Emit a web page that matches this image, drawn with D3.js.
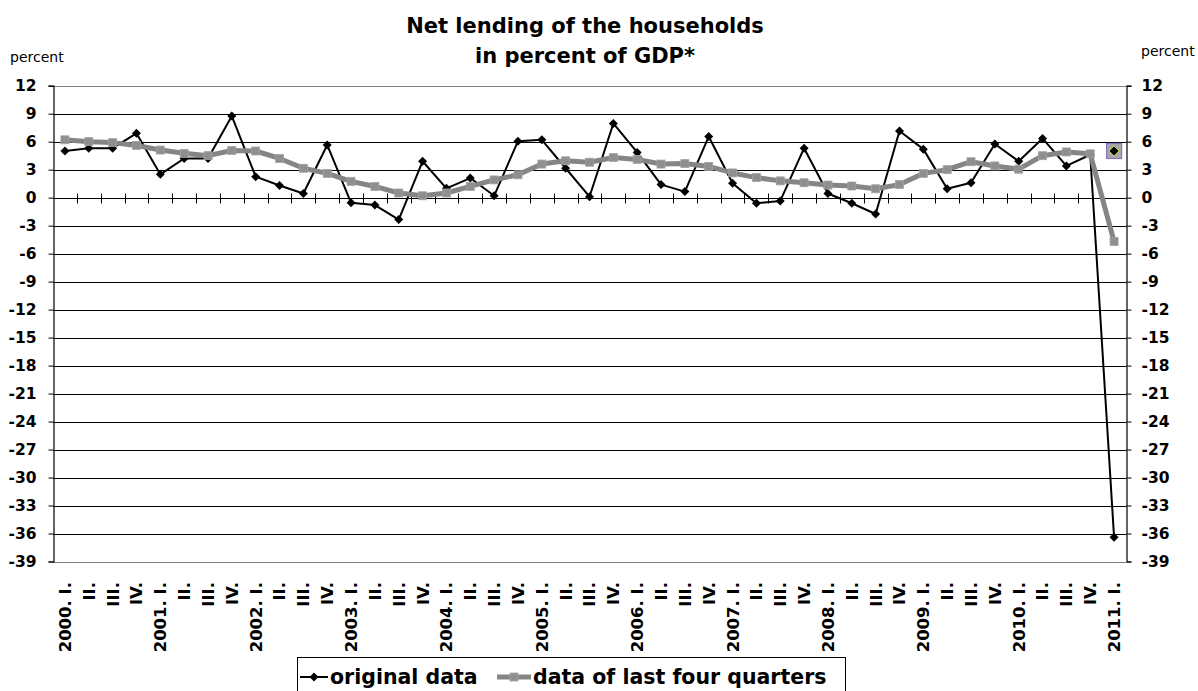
<!DOCTYPE html>
<html>
<head>
<meta charset="utf-8">
<script src="https://cdn.jsdelivr.net/npm/d3@7"></script>
<style>
  html, body { margin: 0; padding: 0; background: #fff; }
  svg { display: block; font-family: "DejaVu Sans", Verdana, sans-serif; }
</style>
</head>
<body>
<svg id="chart" width="1198" height="691"></svg>
<script>
// Quarter labels, 2000 Q1 .. 2011 Q1
const quarters = [
  "2000. I.", "II.", "III.", "IV.",
  "2001. I.", "II.", "III.", "IV.",
  "2002. I.", "II.", "III.", "IV.",
  "2003. I.", "II.", "III.", "IV.",
  "2004. I.", "II.", "III.", "IV.",
  "2005. I.", "II.", "III.", "IV.",
  "2006. I.", "II.", "III.", "IV.",
  "2007. I.", "II.", "III.", "IV.",
  "2008. I.", "II.", "III.", "IV.",
  "2009. I.", "II.", "III.", "IV.",
  "2010. I.", "II.", "III.", "IV.",
  "2011. I."
];

// Quarterly net lending, % of GDP
const originalData = [
  5.0, 5.3, 5.3, 6.9,
  2.5, 4.2, 4.2, 8.75,
  2.25, 1.3, 0.45, 5.65,
  -0.55, -0.8, -2.35, 3.9,
  1.0, 2.1, 0.2, 6.05,
  6.2, 3.15, 0.1, 7.95,
  4.85, 1.4, 0.65, 6.55,
  1.55, -0.6, -0.35, 5.3,
  0.45, -0.6, -1.75, 7.15,
  5.2, 0.95, 1.6, 5.75,
  3.9, 6.35, 3.4, 4.6,
  -36.4
];

// Rolling four-quarter figures, % of GDP
const lastFourQuarters = [
  6.2, 6.0, 5.9, 5.6,
  5.1, 4.75, 4.5, 5.05,
  5.0, 4.2, 3.15, 2.6,
  1.75, 1.2, 0.5, 0.2,
  0.5, 1.2, 1.9, 2.45,
  3.6, 3.95, 3.8, 4.3,
  4.1, 3.6, 3.65, 3.35,
  2.65, 2.15, 1.8, 1.6,
  1.35, 1.25, 0.95, 1.4,
  2.6, 3.0, 3.85, 3.4,
  3.05, 4.5, 4.9, 4.7,
  -4.7
];

// Single boxed marker shown beside the last quarter
const boxedPoint = [{ quarter: "2011. I.", value: 5.0 }];

const yTicks = [12, 9, 6, 3, 0, -3, -6, -9, -12, -15, -18, -21, -24, -27, -30, -33, -36, -39];

const titleLines = ["Net lending of the households", "in percent of GDP*"];
const unitLabel = "percent";
const seriesNames = ["original data", "data of last four quarters"];

const svg = d3.select("#chart");
const plotLeft = 53, plotRight = 1126, plotTop = 85.7, plotBottom = 561.5;

const x = d3.scaleBand().domain(quarters.map((q, i) => i)).range([plotLeft, plotRight]).padding(0);
const y = d3.scaleLinear().domain([-39, 12]).range([plotBottom, plotTop]);
const cx = i => x(i) + x.bandwidth() / 2;

// Horizontal gridlines
svg.append("g").selectAll("line")
  .data(yTicks)
  .join("line")
  .attr("x1", plotLeft).attr("x2", plotRight)
  .attr("y1", d => Math.round(y(d)) + 0.5).attr("y2", d => Math.round(y(d)) + 0.5)
  .attr("stroke", d => (d === 12 || d === -39) ? "#808080" : "#000")
  .attr("stroke-width", 1);

// Left and right value axes
const fmt = d => String(d);
const axL = d3.axisLeft(y).tickValues(yTicks).tickSize(5).tickFormat(fmt);
const axR = d3.axisRight(y).tickValues(yTicks).tickSize(5).tickFormat(fmt);
const gL = svg.append("g").attr("transform", `translate(${plotLeft + 0.5},0)`).call(axL);
const gR = svg.append("g").attr("transform", `translate(${plotRight + 0.5},0)`).call(axR);
[gL, gR].forEach(g => {
  g.select(".domain").attr("stroke", "#000").attr("stroke-width", 1.2);
  g.selectAll(".tick line").attr("stroke", "#000");
  g.selectAll(".tick text")
    .attr("font-family", "DejaVu Sans, Verdana, sans-serif")
    .attr("font-size", 15.5).attr("font-weight", "bold").attr("fill", "#000");
});
gL.selectAll(".tick text").attr("x", -17);
gR.selectAll(".tick text").attr("x", 15);

// Category axis along the zero line, ticks crossing it
const zeroY = Math.round(y(0)) + 0.5;
svg.append("line").attr("x1", plotLeft).attr("x2", plotRight).attr("y1", zeroY).attr("y2", zeroY)
  .attr("stroke", "#000").attr("stroke-width", 1.2);
svg.append("g").selectAll("line")
  .data(d3.range(1, quarters.length))
  .join("line")
  .attr("x1", i => Math.round(x(i)) + 0.5).attr("x2", i => Math.round(x(i)) + 0.5)
  .attr("y1", zeroY - 5).attr("y2", zeroY + 5)
  .attr("stroke", "#000").attr("stroke-width", 1);

// Quarter labels below the plot, rotated
svg.append("g").selectAll("text")
  .data(quarters)
  .join("text")
  .attr("transform", (d, i) => `translate(${cx(i)},582) rotate(-90)`)
  .attr("text-anchor", "end")
  .attr("dy", "0.36em")
  .attr("font-size", 16.5).attr("font-weight", "bold")
  .text(d => d);

// Diamond marker: a square turned by 45 degrees
const diamondPath = s => `M0,${-s}L${s},0L0,${s}L${-s},0Z`;

// Original data line
const lineGen = d3.line().x((d, i) => cx(i)).y(d => y(d));
svg.append("path").datum(originalData)
  .attr("d", lineGen).attr("fill", "none")
  .attr("stroke", "#000").attr("stroke-width", 2).attr("stroke-linejoin", "round");
svg.append("g").selectAll("path")
  .data(originalData)
  .join("path")
  .attr("transform", (d, i) => `translate(${cx(i)},${y(d)})`)
  .attr("d", diamondPath(4.5)).attr("fill", "#000");

// Four-quarter line
svg.append("path").datum(lastFourQuarters)
  .attr("d", lineGen).attr("fill", "none")
  .attr("stroke", "#858585").attr("stroke-width", 5).attr("stroke-linejoin", "round");
svg.append("g").selectAll("rect")
  .data(lastFourQuarters)
  .join("rect")
  .attr("x", (d, i) => cx(i) - 4).attr("y", d => y(d) - 4)
  .attr("width", 8).attr("height", 8)
  .attr("fill", "#8f8f8f").attr("stroke", "#a3a3a3").attr("stroke-width", 0.8);

// Boxed marker
const bp = svg.append("g").selectAll("g")
  .data(boxedPoint)
  .join("g")
  .attr("transform", d => `translate(${cx(quarters.indexOf(d.quarter))},${y(d.value)})`);
bp.append("rect").attr("x", -7.5).attr("y", -7.5).attr("width", 15).attr("height", 15)
  .attr("fill", "#a8a8a8").attr("stroke", "#8a70c0").attr("stroke-width", 1.2);
bp.append("path").attr("d", diamondPath(5))
  .attr("fill", "#000").attr("stroke", "#b8d040").attr("stroke-width", 1);

// Title
svg.append("g").selectAll("text")
  .data(titleLines)
  .join("text")
  .attr("x", 585).attr("y", (d, i) => 33 + i * 30)
  .attr("text-anchor", "middle")
  .attr("font-size", 21).attr("font-weight", "bold")
  .text(d => d);

// Unit labels
svg.append("text").attr("x", 10).attr("y", 62).attr("font-size", 14).text(unitLabel);
svg.append("text").attr("x", 1141).attr("y", 56).attr("font-size", 14).text(unitLabel);

// Legend
const lg = svg.append("g");
lg.append("rect").attr("x", 297.5).attr("y", 657.5).attr("width", 548).attr("height", 50)
  .attr("fill", "#fff").attr("stroke", "#000").attr("stroke-width", 1);
lg.append("line").attr("x1", 300).attr("x2", 328).attr("y1", 677).attr("y2", 677)
  .attr("stroke", "#000").attr("stroke-width", 2);
lg.append("path").attr("transform", "translate(314,677)").attr("d", diamondPath(4.5)).attr("fill", "#000");
lg.append("text").attr("x", 330).attr("y", 684).attr("font-size", 20.5).attr("font-weight", "bold")
  .text(seriesNames[0]);
lg.append("line").attr("x1", 497).attr("x2", 531).attr("y1", 677).attr("y2", 677)
  .attr("stroke", "#858585").attr("stroke-width", 5);
lg.append("rect").attr("x", 510).attr("y", 673).attr("width", 8).attr("height", 8)
  .attr("fill", "#8f8f8f").attr("stroke", "#a3a3a3").attr("stroke-width", 0.8);
lg.append("text").attr("x", 533).attr("y", 684).attr("font-size", 20.5).attr("font-weight", "bold")
  .text(seriesNames[1]);
</script>
</body>
</html>
